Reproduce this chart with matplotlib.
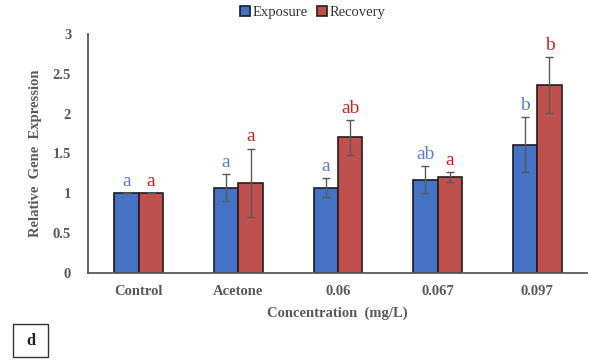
import numpy as np
import matplotlib
matplotlib.use("Agg")
from matplotlib import pyplot as plt
from matplotlib.patches import Rectangle

categories = ["Control", "Acetone", "0.06", "0.067", "0.097"]
exposure = [1.0, 1.07, 1.07, 1.17, 1.61]
exposure_err = [0.0, 0.17, 0.12, 0.17, 0.35]
recovery = [1.0, 1.13, 1.70, 1.20, 2.36]
recovery_err = [0.0, 0.43, 0.22, 0.06, 0.35]
exposure_letters = ["a", "a", "a", "ab", "b"]
recovery_letters = ["a", "a", "ab", "a", "b"]

plt.rcParams['font.family'] = ['Liberation Serif', 'DejaVu Serif']

blue = "#4472C4"
red = "#C0504D"
blue_txt = "#5B82C8"
red_txt = "#C0282E"
grey = "#595959"

fig = plt.figure(figsize=(5.9, 3.6), dpi=100)
ax = fig.add_axes([0.149, 0.242, 0.846, 0.664])

x = np.arange(len(categories))
w = 0.245
ekw = dict(ecolor=grey, elinewidth=1.0, capsize=3, capthick=1.0)
ax.bar(x - w / 2, exposure, w, color=blue, edgecolor="#1a1a2a", linewidth=1.2,
       yerr=exposure_err, error_kw=ekw, label="Exposure")
ax.bar(x + w / 2, recovery, w, color=red, edgecolor="#2a1a1a", linewidth=1.2,
       yerr=recovery_err, error_kw=ekw, label="Recovery")

for i in range(len(categories)):
    ax.text(x[i] - w / 2, exposure[i] + exposure_err[i] + 0.04, exposure_letters[i],
            ha="center", va="bottom", color=blue_txt, fontsize=14)
    ax.text(x[i] + w / 2, recovery[i] + recovery_err[i] + 0.04, recovery_letters[i],
            ha="center", va="bottom", color=red_txt, fontsize=14)

ax.set_xlim(-0.51, 4.5)
ax.set_ylim(0, 3)
ax.set_yticks([0, 0.5, 1, 1.5, 2, 2.5, 3])
ax.set_yticklabels(["0", "0.5", "1", "1.5", "2", "2.5", "3"], fontweight="bold")
ax.set_xticks(x)
ax.set_xticklabels(categories, fontweight="bold")
ax.tick_params(length=0, labelsize=10.5, colors=grey, pad=9)
ax.tick_params(axis="y", pad=12)
for s in ["top", "right"]:
    ax.spines[s].set_visible(False)
for s in ["left", "bottom"]:
    ax.spines[s].set_color(grey)
    ax.spines[s].set_linewidth(1.3)

ax.set_ylabel("Relative  Gene  Expression", fontsize=10.5, fontweight="bold", color=grey, labelpad=8)
ax.set_xlabel("Concentration  (mg/L)", fontsize=10.5, fontweight="bold", color=grey, labelpad=6)

leg = fig.legend(loc="center", bbox_to_anchor=(0.53, 0.965), ncol=2, frameon=False,
                 fontsize=10.5, handlelength=0.7, handleheight=0.7, handletextpad=0.2,
                 columnspacing=0.6)
for t in leg.get_texts():
    t.set_color("#333333")

fig.patches.append(Rectangle((13 / 590, 3 / 360), 35 / 590, 33 / 360, transform=fig.transFigure,
                             facecolor="white", edgecolor="#333333", linewidth=1.0))
fig.text(30.5 / 590, 19 / 360, "d", ha="center", va="center", fontsize=12,
         fontweight="bold", color="#222222")

fig.savefig("out.png", dpi=100)
